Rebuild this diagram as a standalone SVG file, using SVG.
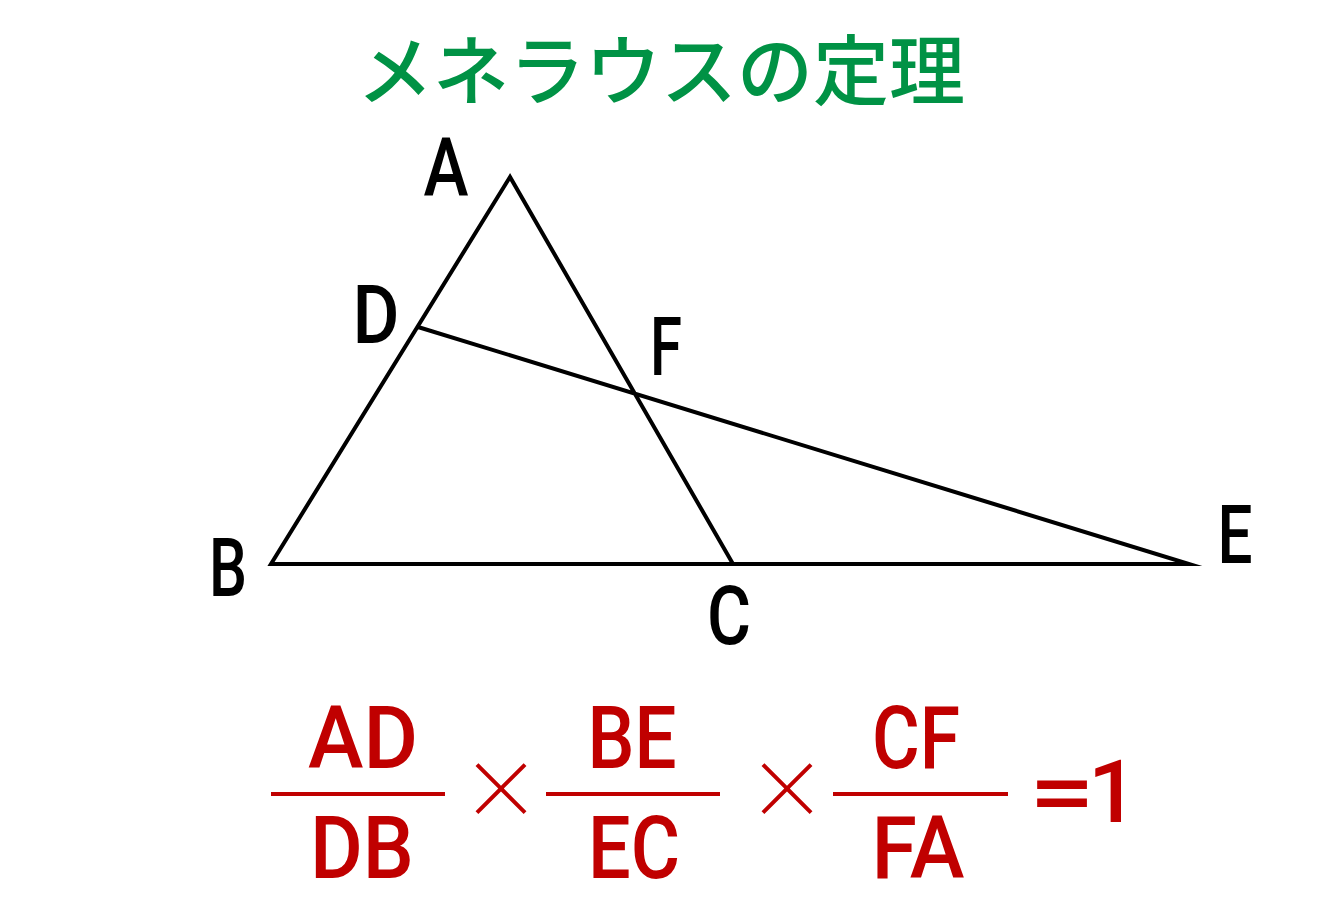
<svg xmlns="http://www.w3.org/2000/svg" width="1333" height="917" viewBox="0 0 1333 917">
<style>
.title{font-family:"Liberation Sans","Noto Sans CJK JP",sans-serif;font-size:76px;font-weight:500;fill:#009245}
.lbl{font-family:Roboto,"Open Sans",sans-serif;font-size:81px;font-weight:500;fill:#000;text-anchor:middle}
.frac{font-family:Roboto,"Open Sans",sans-serif;font-size:88px;font-weight:500;fill:#c00000;text-anchor:middle}
.eq{font-family:Roboto,"Open Sans",sans-serif;font-size:88px;font-weight:500;fill:#c00000;text-anchor:start}
.bar{stroke:#c00000;stroke-width:4;fill:none}
.times{font-family:"Noto Sans CJK JP","Noto Sans",sans-serif;font-size:80px;font-weight:300;fill:#c00000;text-anchor:middle}
.edge{stroke:#000;stroke-width:4;fill:none;stroke-miterlimit:10}
</style>
<rect width="1333" height="917" fill="#fff"/>
<g id="title"><text class="title" x="661" y="99" text-anchor="middle">メネラウスの定理</text></g>
<g id="connectors">
<path class="edge" d="M418,327 L1189,564 L271,564 L510,177 L733,564"/>
</g>
<g id="node-A"><text class="lbl" x="446" y="196" textLength="45" lengthAdjust="spacingAndGlyphs">A</text></g>
<g id="node-D"><text class="lbl" x="376" y="343" textLength="47" lengthAdjust="spacingAndGlyphs">D</text></g>
<g id="node-F"><text class="lbl" x="666" y="375" textLength="32" lengthAdjust="spacingAndGlyphs">F</text></g>
<g id="node-B"><text class="lbl" x="228" y="596" textLength="38" lengthAdjust="spacingAndGlyphs">B</text></g>
<g id="node-C"><text class="lbl" x="729" y="644" textLength="44" lengthAdjust="spacingAndGlyphs">C</text></g>
<g id="node-E"><text class="lbl" x="1235" y="563" textLength="35" lengthAdjust="spacingAndGlyphs">E</text></g>
<g id="formula">
<text class="frac" x="363" y="768" textLength="110" lengthAdjust="spacingAndGlyphs">AD</text>
<line class="bar" x1="271" y1="794" x2="445" y2="794"/>
<text class="frac" x="362" y="878" textLength="104" lengthAdjust="spacingAndGlyphs">DB</text>
<text class="times" x="501" y="818">×</text>
<text class="frac" x="632" y="768" textLength="89" lengthAdjust="spacingAndGlyphs">BE</text>
<line class="bar" x1="546" y1="794" x2="720" y2="794"/>
<text class="frac" x="634" y="878" textLength="92" lengthAdjust="spacingAndGlyphs">EC</text>
<text class="times" x="787" y="818">×</text>
<text class="frac" x="916" y="768" textLength="88" lengthAdjust="spacingAndGlyphs">CF</text>
<line class="bar" x1="833" y1="794" x2="1008" y2="794"/>
<text class="frac" x="918" y="878" textLength="93" lengthAdjust="spacingAndGlyphs">FA</text>
<text class="eq" y="822"><tspan x="1029" textLength="66" lengthAdjust="spacingAndGlyphs">=</tspan><tspan x="1088">1</tspan></text>
</g>
</svg>
